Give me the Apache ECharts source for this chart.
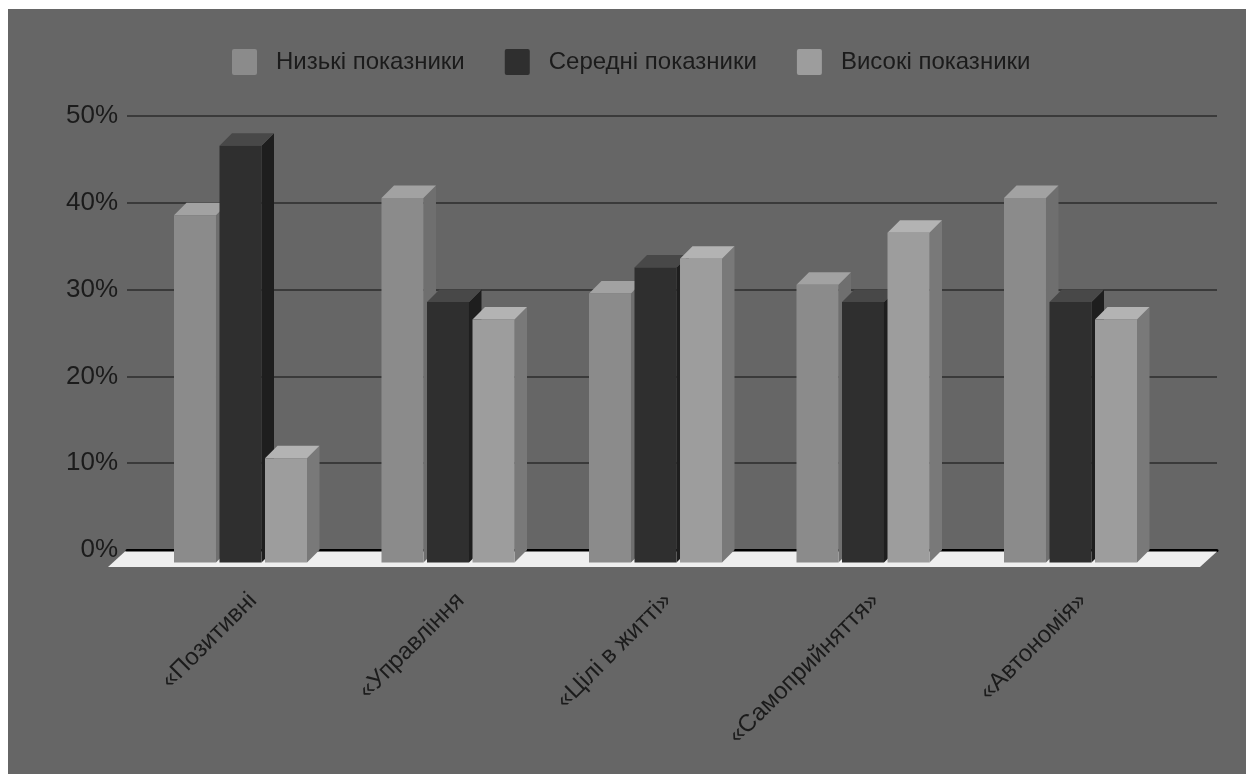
<!DOCTYPE html>
<html>
<head>
<meta charset="utf-8">
<title>Показники за шкалами</title>
<script src="https://cdn.jsdelivr.net/npm/echarts@6/dist/echarts.min.js"></script>
<style>
  html, body { margin: 0; padding: 0; background: #ffffff; }
  #chart { width: 1246px; height: 774px; }
</style>
</head>
<body>
<div id="chart"></div>
<script>
// Scale names and percentages of respondents in each level group
const categories = ['«Позитивні', '«Управління', '«Цілі в житті»', '«Самоприйняття»', '«Автономія»'];
const seriesNames = ['Низькі показники', 'Середні показники', 'Високі показники'];
const lowValues = [40, 42, 31, 32, 42];
const midValues = [48, 30, 34, 30, 30];
const highValues = [12, 28, 35, 38, 28];
const yMin = 0;
const yMax = 50;
const yStep = 10;

// Face shading for the pseudo-3D columns: front, top and right side
const faceColors = [
  { front: '#8b8b8b', top: '#a2a2a2', side: '#6f6f6f' },
  { front: '#2f2f2f', top: '#484848', side: '#1e1e1e' },
  { front: '#9d9d9d', top: '#b3b3b3', side: '#797979' }
];

const FONT = '"Liberation Sans", Arial, sans-serif';
const TEXT_COLOR = '#1b1b1b';
const DEPTH = 12.5;         // px offset of the column depth
const BAR_WIDTH = 0.2024;   // fraction of a category band
const BAR_PITCH = 0.2193;   // distance between neighbouring columns, fraction of band

function columnRenderer(k) {
  return function (params, api) {
    const cat = api.value(0);
    const val = api.value(1);
    const band = api.size([1, 0])[0];
    const topPt = api.coord([cat, val]);
    const basePt = api.coord([cat, 0]);
    const cx = topPt[0] - DEPTH + (k - 1) * band * BAR_PITCH;
    const w = band * BAR_WIDTH;
    const x0 = cx - w / 2;
    const x1 = cx + w / 2;
    const yT = topPt[1] + DEPTH;
    const yB = basePt[1] + DEPTH;
    const c = faceColors[k];
    return {
      type: 'group',
      children: [
        {
          type: 'polygon',
          shape: { points: [[x1, yT], [x1 + DEPTH, yT - DEPTH], [x1 + DEPTH, yB - DEPTH], [x1, yB]] },
          style: { fill: c.side }
        },
        {
          type: 'polygon',
          shape: { points: [[x0, yT], [x0 + DEPTH, yT - DEPTH], [x1 + DEPTH, yT - DEPTH], [x1, yT]] },
          style: { fill: c.top }
        },
        {
          type: 'rect',
          shape: { x: x0, y: yT, width: w, height: yB - yT },
          style: { fill: c.front }
        }
      ]
    };
  };
}

// Floor plate under the columns, drawn from the back-wall grid extent
function floorRenderer(params, api) {
  const cs = params.coordSys;
  const yb = api.coord([0, 0])[1] + 1.5;
  const xl = cs.x - 2;
  const xr = cs.x + cs.width;
  const d = 17;
  return {
    type: 'polygon',
    silent: true,
    shape: { points: [[xl, yb], [xr, yb], [xr - d, yb + d - 1.5], [xl - d, yb + d - 1.5]] },
    style: { fill: '#efefef' }
  };
}

const valueSets = [lowValues, midValues, highValues];

const chart = echarts.init(document.getElementById('chart'), null, { renderer: 'canvas' });

chart.setOption({
  backgroundColor: 'transparent',
  animation: false,
  textStyle: { fontFamily: FONT },
  graphic: [
    {
      type: 'rect',
      left: 8,
      top: 9,
      z: -100,
      silent: true,
      shape: { width: 1238, height: 765 },
      style: { fill: '#666666' }
    }
  ],
  legend: {
    data: seriesNames,
    left: 227,
    top: 44,
    itemWidth: 25,
    itemHeight: 26,
    itemGap: 40,
    icon: 'path://M2,0 L23,0 Q25,0 25,2 L25,24 Q25,26 23,26 L2,26 Q0,26 0,24 L0,2 Q0,0 2,0 Z',
    textStyle: { fontFamily: FONT, fontSize: 24, color: TEXT_COLOR, padding: [0, 0, 0, 14] }
  },
  grid: [
    { left: 127, right: 29, top: 116, bottom: 224 },
    { left: 149.25, right: 59.25, top: 116, bottom: 224 }
  ],
  xAxis: [
    {
      gridIndex: 0,
      type: 'value',
      min: 0,
      max: 1,
      axisLabel: { show: false },
      axisTick: { show: false },
      splitLine: { show: false },
      axisLine: { show: true, lineStyle: { color: '#000000', width: 3 } }
    },
    {
      gridIndex: 1,
      type: 'category',
      data: categories,
      axisLine: { show: false },
      axisTick: { show: false },
      axisLabel: {
        rotate: 45,
        margin: 47,
        interval: 0,
        fontFamily: FONT,
        fontSize: 24,
        color: TEXT_COLOR
      }
    }
  ],
  yAxis: [
    {
      gridIndex: 0,
      type: 'value',
      min: yMin,
      max: yMax,
      interval: yStep,
      axisLine: { show: false },
      axisTick: { show: false },
      axisLabel: {
        formatter: '{value}%',
        margin: 9,
        fontFamily: FONT,
        fontSize: 26,
        color: TEXT_COLOR
      },
      splitLine: { lineStyle: { color: '#3a3a3a', width: 2 } }
    },
    {
      gridIndex: 1,
      type: 'value',
      min: yMin,
      max: yMax,
      interval: yStep,
      show: false
    }
  ],
  series: [
    {
      name: 'floor',
      type: 'custom',
      xAxisIndex: 0,
      yAxisIndex: 0,
      silent: true,
      z: 1,
      renderItem: floorRenderer,
      data: [[0, 0]]
    }
  ].concat(seriesNames.map(function (name, k) {
    return {
      name: name,
      type: 'custom',
      xAxisIndex: 1,
      yAxisIndex: 1,
      z: 2 + k,
      itemStyle: { color: faceColors[k].front },
      encode: { x: 0, y: 1 },
      renderItem: columnRenderer(k),
      data: valueSets[k].map(function (v, i) { return [i, v]; })
    };
  }))
});
</script>
</body>
</html>
